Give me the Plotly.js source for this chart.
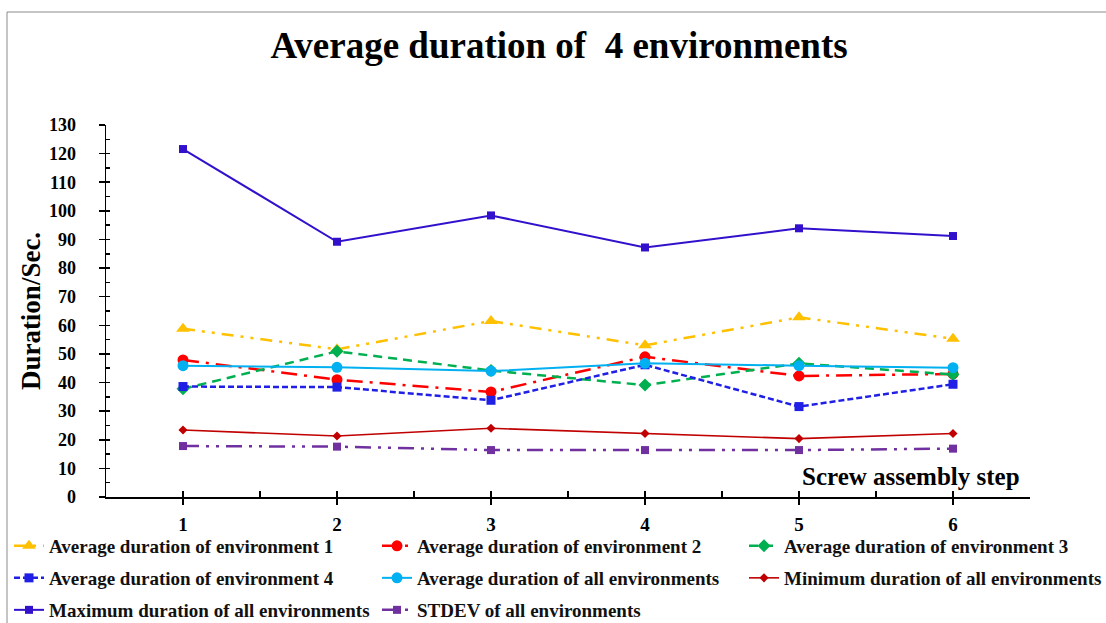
<!DOCTYPE html>
<html>
<head>
<meta charset="utf-8">
<script src="https://cdn.plot.ly/plotly-3.0.1.min.js"></script>
<style>html,body{margin:0;padding:0;background:#fff;}#chart{width:1106px;height:623px;}</style>
</head>
<body>
<div id="chart"></div>
<script>
const steps = [1, 2, 3, 4, 5, 6];
const env1 = [58.8, 51.6, 61.5, 53.0, 62.8, 55.3];
const env2 = [47.9, 41.0, 36.7, 49.0, 42.3, 43.0];
const env3 = [37.8, 50.9, 44.2, 39.1, 46.7, 42.8];
const env4 = [38.6, 38.4, 33.8, 46.2, 31.6, 39.4];
const avgAll = [45.9, 45.3, 44.0, 46.7, 45.9, 45.2];
const minAll = [23.4, 21.3, 24.0, 22.2, 20.4, 22.2];
const maxAll = [121.6, 89.2, 98.4, 87.2, 93.9, 91.2];
const stdevAll = [17.8, 17.6, 16.4, 16.4, 16.4, 16.9];
const names = [
  'Average duration of environment 1',
  'Average duration of environment 2',
  'Average duration of environment 3',
  'Average duration of environment 4',
  'Average duration of all environments',
  'Minimum duration of all environments',
  'Maximum duration of all environments',
  'STDEV of all environments'
];
const yTicks = [0,10,20,30,40,50,60,70,80,90,100,110,120,130];

const FONT = 'Liberation Serif, Times New Roman, serif';

function tr(y, name, color, dash, width, symbol, size, legend) {
  return {x: steps, y: y, name: name, type: 'scatter', mode: 'lines+markers',
    line: {color: color, dash: dash, width: width},
    marker: {color: color, symbol: symbol, size: size},
    legend: legend, cliponaxis: false};
}

const data = [
  tr(env1, names[0], '#FFC000', '12px,7px,3px,7px,3px,7px', 2.5, 'triangle-up', 12, 'legend'),
  tr(env2, names[1], '#FF0000', '16px,7px,3px,7px', 2.5, 'circle', 11, 'legend2'),
  tr(env3, names[2], '#00B050', '9px,6px', 2.5, 'diamond', 10, 'legend3'),
  tr(env4, names[3], '#1F1FE6', '6px,3px', 2.5, 'square', 9, 'legend4'),
  tr(avgAll, names[4], '#00B0F0', 'solid', 2, 'circle', 11, 'legend5'),
  tr(minAll, names[5], '#C00000', 'solid', 1.6, 'diamond', 7, 'legend6'),
  tr(maxAll, names[6], '#3311CC', 'solid', 2, 'square', 8, 'legend7'),
  tr(stdevAll, names[7], '#7030A0', '16px,7px,3px,7px,3px,7px', 2.5, 'square', 8, 'legend8'),
  {x: [1], y: [0], xaxis: 'x2', yaxis: 'y', mode: 'markers', marker: {opacity: 0}, showlegend: false, hoverinfo: 'skip'},
  {x: [1], y: [0], xaxis: 'x', yaxis: 'y2', mode: 'markers', marker: {opacity: 0}, showlegend: false, hoverinfo: 'skip'}
];

const L = 106, R = 76, T = 125, B = 126;
const PW = 1106 - L - R, PH = 623 - T - B;
const px = v => (v - L) / PW;
const py = v => (623 - B - v) / PH;

function legendAt(xPix, yPix) {
  return {orientation: 'v', x: px(xPix), xanchor: 'left', y: py(yPix), yanchor: 'middle',
    bgcolor: 'rgba(0,0,0,0)', borderwidth: 0,
    font: {family: FONT, size: 19, weight: 'bold', color: '#111'}, itemwidth: 30};
}

const colX = [9, 377, 744];
const rowY = [546, 578, 610];

const layout = {
  width: 1106, height: 623,
  margin: {l: L, r: R, t: T, b: B, pad: 0, autoexpand: false},
  paper_bgcolor: '#fff', plot_bgcolor: 'rgba(0,0,0,0)',
  font: {family: FONT, color: '#000'},
  title: {text: 'Average duration of  4 environments', x: 559/1106, xanchor: 'center', xref: 'container',
    y: 1 - 45/623, yanchor: 'middle', yref: 'container',
    font: {family: FONT, size: 37, weight: 'bold', color: '#000'}},
  xaxis: {range: [0.5, 6.5], tickvals: steps, ticktext: steps.map(String), ticks: 'outside', ticklen: 6, tickwidth: 1.5,
    tickcolor: '#000', showline: true, linecolor: '#000', linewidth: 1.5, showgrid: false, zeroline: false,
    tickfont: {family: FONT, size: 19, weight: 'bold', color: '#000'}, ticklabelstandoff: 4, fixedrange: true,
    automargin: false},
  xaxis2: {overlaying: 'x', anchor: 'y', range: [0.5, 6.5], tick0: 0.5, dtick: 0.5, ticks: 'inside', ticklen: 6,
    tickwidth: 1.5, tickcolor: '#000', showticklabels: false, showline: false, showgrid: false, zeroline: false},
  yaxis: {range: [0, 130], tickvals: yTicks, ticktext: yTicks.map(String), ticks: 'outside', ticklen: 6, tickwidth: 1.5,
    tickcolor: '#000', showline: true, linecolor: '#000', linewidth: 1.5, showgrid: false, zeroline: false,
    tickfont: {family: FONT, size: 18, weight: 'bold', color: '#000'}, ticklabelstandoff: 19,
    title: {text: 'Duration/Sec.', font: {family: FONT, size: 27, weight: 'bold', color: '#000'}, standoff: 0},
    automargin: false, fixedrange: true},
  yaxis2: {overlaying: 'y', anchor: 'x', range: [0, 130], tick0: 0, dtick: 5, ticks: 'inside', ticklen: 4,
    tickwidth: 1.5, tickcolor: '#000', showticklabels: false, showline: false, showgrid: false, zeroline: false},
  legend: legendAt(colX[0], rowY[0]),
  legend2: legendAt(colX[1], rowY[0]),
  legend3: legendAt(colX[2], rowY[0]),
  legend4: legendAt(colX[0], rowY[1]),
  legend5: legendAt(colX[1], rowY[1]),
  legend6: legendAt(colX[2], rowY[1]),
  legend7: legendAt(colX[0], rowY[2]),
  legend8: legendAt(colX[1], rowY[2]),
  annotations: [{text: 'Screw assembly step', xref: 'paper', yref: 'paper', x: px(1022), y: py(476),
    xanchor: 'right', yanchor: 'middle', showarrow: false,
    font: {family: FONT, size: 25, weight: 'bold', color: '#000'}}],
  shapes: [{type: 'rect', xref: 'paper', yref: 'paper', x0: px(7), x1: px(1250), y0: py(750), y1: py(12),
    line: {color: '#8a8a8a', width: 1}, layer: 'below'}],
  showlegend: true
};

Plotly.newPlot('chart', data, layout, {displayModeBar: false, staticPlot: true});
</script>
</body>
</html>
